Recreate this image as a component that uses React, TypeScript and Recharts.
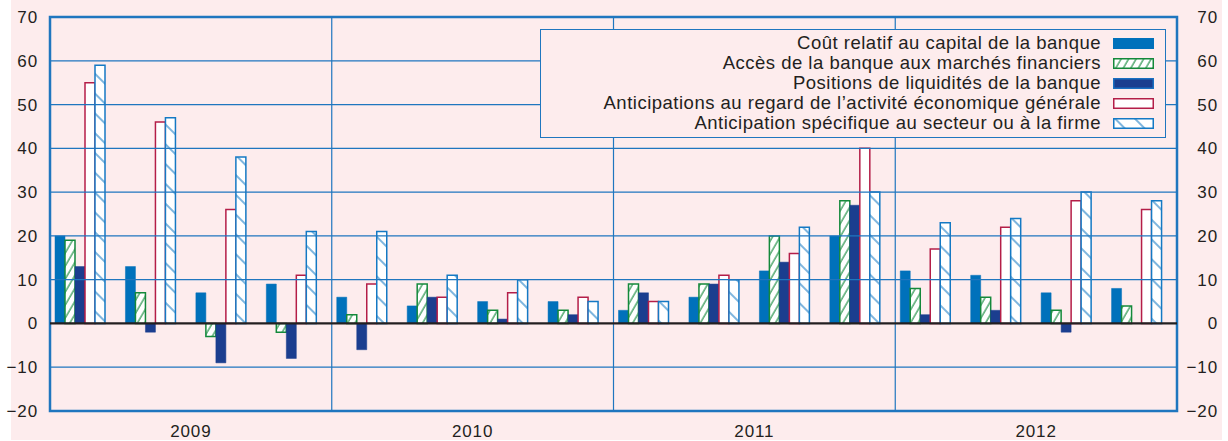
import React from 'react';
import {
  BarChart, Bar, XAxis, YAxis, ReferenceLine, ReferenceArea, Legend,
} from 'recharts';

const quarters = [
  'T1 2009', 'T2 2009', 'T3 2009', 'T4 2009',
  'T1 2010', 'T2 2010', 'T3 2010', 'T4 2010',
  'T1 2011', 'T2 2011', 'T3 2011', 'T4 2011',
  'T1 2012', 'T2 2012', 'T3 2012', 'T4 2012',
];
const years = ['2009', '2010', '2011', '2012'];
const yearEnds = ['T4 2009', 'T4 2010', 'T4 2011'];
const yTicks = [-20, -10, 0, 10, 20, 30, 40, 50, 60, 70];
const gridValues = [-10, 10, 20, 30, 40, 50, 60];

const coutCapital = [20, 13, 7, 9, 6, 4, 5, 5, 3, 6, 12, 20, 12, 11, 7, 8];
const accesMarches = [19, 7, -3, -2, 2, 9, 3, 3, 9, 9, 20, 28, 8, 6, 3, 4];
const liquidites = [13, -2, -9, -8, -6, 6, 1, 2, 7, 9, 14, 27, 2, 3, -2, 0];
const anticipGenerale = [55, 46, 26, 11, 9, 6, 7, 6, 5, 11, 16, 40, 17, 22, 28, 26];
const anticipSecteur = [59, 47, 38, 21, 21, 11, 10, 5, 5, 10, 22, 30, 23, 24, 30, 28];

const seriesNames = [
  'Coût relatif au capital de la banque',
  'Accès de la banque aux marchés financiers',
  'Positions de liquidités de la banque',
  'Anticipations au regard de l’activité économique générale',
  'Anticipation spécifique au secteur ou à la firme',
];

const data = quarters.map((q, i) => ({
  q,
  cout: coutCapital[i],
  acces: accesMarches[i],
  liq: liquidites[i],
  gen: anticipGenerale[i],
  sect: anticipSecteur[i],
}));

const FONT = '"Liberation Sans", Arial, Helvetica, sans-serif';
const PINK = '#fdeced';
const GRID = '#1f76bf';
const TEXT = '#231f20';
const BLUE = '#0071bb';
const GREEN = '#14893b';
const NAVY = '#1b3e8f';
const RED = '#b41e48';
const HATCHBLUE = '#1479c4';

const fmt = (v: number) => (v < 0 ? '\u2212' + Math.abs(v) : String(v));

const LeftTick = (props: any) => {
  const { x, y, payload } = props;
  return (
    <text x={x} y={y + 6} textAnchor="end" fontSize={17} letterSpacing={0.9} fill={TEXT} fontFamily={FONT}>
      {fmt(payload.value)}
    </text>
  );
};

const RightLabel = (props: any) => {
  const { viewBox, txt } = props;
  if (!viewBox) return null;
  return (
    <text
      x={viewBox.x + viewBox.width + 41}
      y={viewBox.y + 6}
      textAnchor="end"
      fontSize={17}
      letterSpacing={0.9}
      fill={TEXT}
      fontFamily={FONT}
    >
      {txt}
    </text>
  );
};

const YearTick = (props: any) => {
  const { x, y, payload, index } = props;
  if (index % 4 !== 1) return <g />;
  const half = payload && typeof payload.offset === 'number' ? payload.offset : 0;
  return (
    <text x={x + half} y={y + 26} textAnchor="middle" fontSize={17} letterSpacing={0.9} fill={TEXT} fontFamily={FONT}>
      {years[Math.floor(index / 4)]}
    </text>
  );
};

const swatches = [
  { fill: BLUE, stroke: BLUE },
  { fill: 'url(#greenHatch)', stroke: GREEN },
  { fill: NAVY, stroke: '#1a6fc0' },
  { fill: '#ffffff', stroke: RED },
  { fill: 'url(#blueHatch)', stroke: HATCHBLUE },
];

const LegendBox = () => (
  <div
    style={{
      boxSizing: 'border-box',
      width: 626,
      height: 109,
      border: `1.5px solid ${GRID}`,
      background: PINK,
      paddingTop: 3,
      fontFamily: FONT,
    }}
  >
    {seriesNames.map((name, i) => (
      <div
        key={name}
        style={{
          display: 'flex',
          justifyContent: 'flex-end',
          alignItems: 'center',
          height: 20,
          paddingRight: 11,
        }}
      >
        <span style={{ fontSize: 18.5, letterSpacing: 0.5, color: TEXT, lineHeight: '20px', whiteSpace: 'nowrap' }}>{name}</span>
        <svg width={41} height={11} style={{ marginLeft: 12, display: 'block' }}>
          <rect x={0.75} y={0.75} width={39.5} height={9.5} fill={swatches[i].fill} stroke={swatches[i].stroke} strokeWidth={1.5} />
        </svg>
      </div>
    ))}
  </div>
);

export default function App() {
  return (
    <div style={{ position: 'absolute', left: 0, top: 0, width: 1228, height: 441, background: '#ffffff' }}>
      <svg width={0} height={0} style={{ position: 'absolute' }}>
        <defs>
          <pattern id="greenHatch" patternUnits="userSpaceOnUse" width={6.5} height={10} patternTransform="rotate(30)">
            <rect x={0} y={0} width={6.5} height={10} fill="#ffffff" />
            <line x1={1} y1={-1} x2={1} y2={11} stroke={GREEN} strokeWidth={1.1} />
          </pattern>
          <pattern id="blueHatch" patternUnits="userSpaceOnUse" width={14} height={10} patternTransform="rotate(-45)">
            <rect x={0} y={0} width={14} height={10} fill="#ffffff" />
            <line x1={1} y1={-1} x2={1} y2={11} stroke={HATCHBLUE} strokeWidth={1.1} />
          </pattern>
        </defs>
      </svg>
      <div style={{ position: 'absolute', left: 11, top: 0, width: 1211, height: 440, background: PINK }} />
      <div style={{ position: 'absolute', left: 0, top: 0 }}>
        <BarChart
          width={1228}
          height={441}
          data={data}
          margin={{ top: 17, right: 51, bottom: 0, left: 0 }}
          barGap={0}
          barCategoryGap={5}
        >
          <XAxis
            dataKey="q"
            tick={<YearTick />}
            tickLine={false}
            axisLine={false}
            stroke="none"
            tickSize={0}
            tickMargin={0}
            height={30}
            interval={0}
          />
          <YAxis
            yAxisId="left"
            domain={[-20, 70]}
            ticks={yTicks}
            width={50}
            tick={<LeftTick />}
            tickLine={false}
            axisLine={false}
            stroke="none"
            tickSize={0}
            tickMargin={12}
            interval={0}
            allowDataOverflow
          />
          {gridValues.map((v) => (
            <ReferenceLine key={`g${v}`} yAxisId="left" y={v} stroke={GRID} strokeWidth={1.2} />
          ))}
          {yearEnds.map((q) => (
            <ReferenceLine key={q} yAxisId="left" x={q} position="end" stroke={GRID} strokeWidth={1.2} />
          ))}
          <Bar yAxisId="left" dataKey="cout" name={seriesNames[0]} fill={BLUE} stroke={BLUE} strokeWidth={0.5} isAnimationActive={false} />
          <Bar yAxisId="left" dataKey="acces" name={seriesNames[1]} fill="url(#greenHatch)" stroke={GREEN} strokeWidth={1.5} isAnimationActive={false} />
          <Bar yAxisId="left" dataKey="liq" name={seriesNames[2]} fill={NAVY} stroke={NAVY} strokeWidth={0.5} isAnimationActive={false} />
          <Bar yAxisId="left" dataKey="gen" name={seriesNames[3]} fill="#ffffff" stroke={RED} strokeWidth={1.5} isAnimationActive={false} />
          <Bar yAxisId="left" dataKey="sect" name={seriesNames[4]} fill="url(#blueHatch)" stroke={HATCHBLUE} strokeWidth={1.5} isAnimationActive={false} />
          <Bar yAxisId="left" dataKey="spacer" fill="none" stroke="none" legendType="none" isAnimationActive={false} />
          <ReferenceLine yAxisId="left" y={0} stroke="#231f20" strokeWidth={2.2} />
          <ReferenceArea
            yAxisId="left"
            x1={quarters[0]}
            x2={quarters[quarters.length - 1]}
            y1={-20}
            y2={70}
            fill="none"
            fillOpacity={0}
            stroke={GRID}
            strokeWidth={2.5}
            ifOverflow="visible"
          />
          {yTicks.map((v) => (
            <ReferenceLine
              key={`r${v}`}
              yAxisId="left"
              y={v}
              stroke="none"
              ifOverflow="visible"
              label={<RightLabel txt={fmt(v)} />}
            />
          ))}
          <Legend
            layout="vertical"
            align="center"
            verticalAlign="middle"
            content={<LegendBox />}
            wrapperStyle={{ left: 540, top: 29, width: 626, height: 109, right: 'auto', bottom: 'auto' }}
          />
        </BarChart>
      </div>
    </div>
  );
}
